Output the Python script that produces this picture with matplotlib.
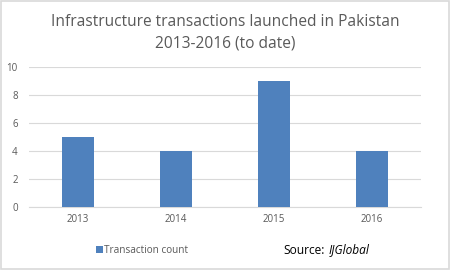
import matplotlib
matplotlib.use("Agg")
import matplotlib.pyplot as plt
from matplotlib.patches import Rectangle

categories = ["2013", "2014", "2015", "2016"]
counts = [5, 4, 9, 4]
yticks = [0, 2, 4, 6, 8, 10]

plt.rcParams['font.family'] = ['Open Sans', 'DejaVu Sans']

fig = plt.figure(figsize=(4.5, 2.7), dpi=100)
fig.patch.set_facecolor("white")
fig.add_artist(Rectangle((0.002, 0.004), 0.996, 0.992, transform=fig.transFigure,
                         fill=False, edgecolor="#D9D9D9", linewidth=1.2))

ax = fig.add_axes([0.064, 0.233, 0.872, 0.519])
x = range(len(categories))
ax.bar(x, counts, width=0.32, color="#4F81BD", zorder=3)
ax.set_xlim(-0.5, len(categories) - 0.5)
ax.set_ylim(0, 10)
ax.set_yticks(yticks)
ax.set_xticks(list(x))
ax.set_xticklabels(categories)
ax.grid(axis="y", color="#D9D9D9", linewidth=0.8, zorder=0)
for s in ["top", "right", "left"]:
    ax.spines[s].set_visible(False)
ax.spines["bottom"].set_color("#D9D9D9")
ax.tick_params(axis="both", length=0, labelsize=7, colors="#595959")
ax.tick_params(axis="y", pad=8)
ax.tick_params(axis="x", pad=5)

fig.text(0.5, 0.878, "Infrastructure transactions launched in Pakistan\n2013-2016 (to date)",
         ha="center", va="center", fontsize=11.2, color="#595959", linespacing=1.45)

fig.add_artist(Rectangle((0.213, 0.063), 0.016, 0.027, transform=fig.transFigure,
                         facecolor="#4F81BD", edgecolor="none"))
fig.text(0.232, 0.074, "Transaction count", ha="left", va="center", fontsize=7.2, color="#595959")
fig.text(0.63, 0.074, "Source:", ha="left", va="center", fontsize=8.6, color="black")
fig.text(0.731, 0.074, "IJGlobal", ha="left", va="center", fontsize=8.6, color="black", style="italic")

fig.savefig("out.png", dpi=100)
